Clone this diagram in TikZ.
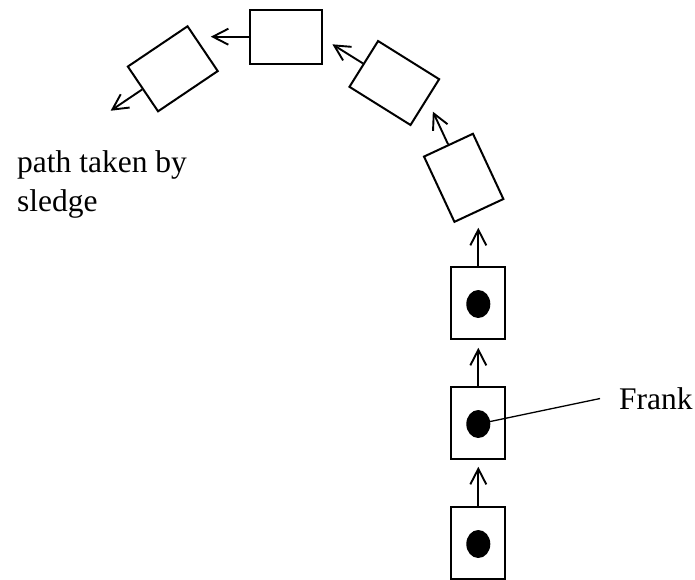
\documentclass[tikz,border=0pt]{standalone}
\usepackage{fontspec}
\setmainfont{Liberation Serif}
\usetikzlibrary{arrows.meta,shapes.geometric}
\begin{document}
\begin{tikzpicture}[x=1pt,y=1pt,
  sledge/.style={draw, line width=2pt, minimum width=54pt, minimum height=72pt, inner sep=0pt},
  sledgeh/.style={sledge, minimum width=72pt, minimum height=54pt},
  rider/.style={fill=black, ellipse, minimum width=24pt, minimum height=28pt, inner sep=0pt},
  move/.style={line width=1.9pt, -{Straight Barb[length=15.5pt,width=16pt]}},
  lbl/.style={font=\fontsize{31.5}{39}\selectfont, inner sep=0pt}
]
\useasboundingbox (0,0) rectangle (695,-579);

% vertical sledges with Frank
\node[sledge] (v1) at (478.3,-542.5) {};
\node[rider] (r1) at (478.3,-544) {};
\node[sledge] (v2) at (478.3,-422.5) {};
\node[rider] (r2) at (478.3,-424) {};
\node[sledge] (v3) at (478.3,-302.5) {};
\node[rider] (r3) at (478.3,-304) {};

% sledges along the curve
\node[sledge, rotate=25] (s4) at (463.7,-177.8) {};
\node[sledgeh, rotate=-32] (s5) at (394.3,-83) {};
\node[sledgeh] (s6) at (285.8,-36.7) {};
\node[sledgeh, rotate=34] (s7) at (172.8,-68.8) {};

% motion arrows
\draw[move] (v1.north) -- ++(90:38.7);
\draw[move] (v2.north) -- ++(90:37.7);
\draw[move] (v3.north) -- ++(90:37.7);
\draw[move] (s4.north) -- ++(115:36);
\draw[move] (s5.west) -- ++(148:36);
\draw[move] (s6.west) -- ++(180:38);
\draw[move] (s7.west) -- ++(214:38);

% labels
\node[lbl, align=left, anchor=north west] (path) at (17,-150.5) {path taken by\\sledge};
\node[lbl, anchor=base west, inner xsep=19pt] (frank) at (600,-409.3) {Frank};
\draw[line width=1.3pt] (r2.center) -- (frank.west);
\end{tikzpicture}
\end{document}
